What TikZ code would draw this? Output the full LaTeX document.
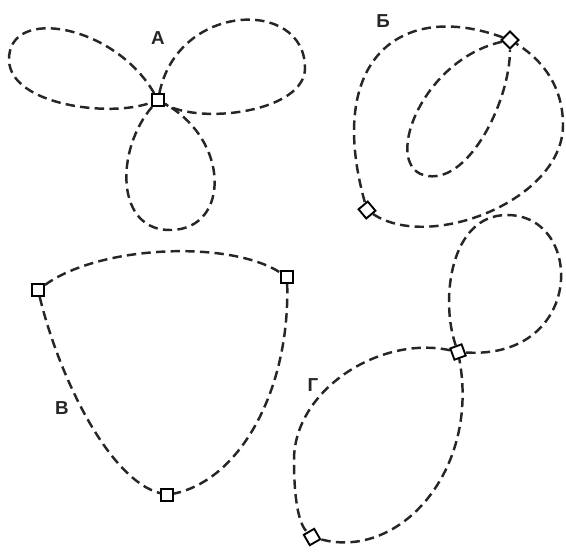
\documentclass[tikz,border=0pt]{standalone}
\usepackage{fontspec}
\newfontfamily\cyrfont{Liberation Sans}

\begin{document}
\begin{tikzpicture}[x=0.03cm, y=-0.03cm,
  vertex/.style={draw, fill=white, line width=1.6pt, minimum size=0.36cm, inner sep=0pt},
  loopline/.style={line width=2.1pt, dash pattern=on 8pt off 4.5pt, black!85},
  letter/.style={font=\cyrfont\bfseries\fontsize{16}{18}\selectfont, black!85}]
  \useasboundingbox (0,0) rectangle (566,553);

  % A
  \node[vertex] (a) at (158,100) {};
  \node[letter] (labA) at (158,38) {А};
  \draw[loopline] (a) .. controls (115,25) and (8,5) .. (9,60)
    .. controls (10,105) and (110,118) .. (a);
  \draw[loopline] (a) .. controls (178,2) and (305,-2) .. (305,68)
    .. controls (305,112) and (200,125) .. (a);
  \draw[loopline] (a) .. controls (115,150) and (115,232) .. (172,230)
    .. controls (230,228) and (230,140) .. (a);

  % Б
  \node[vertex, rotate=45] (bt) at (510,40) {};
  \node[vertex, rotate=40] (bl) at (367,210) {};
  \node[letter] (labB) at (383,21) {Б};
  \draw[loopline] (bt) .. controls (400,0) and (325,60) .. (bl);
  \draw[loopline] (bl) .. controls (430,252) and (563,200) .. (563,125)
    .. controls (563,80) and (535,55) .. (bt);
  \draw[loopline] (bt) .. controls (420,60) and (380,170) .. (428,176)
    .. controls (470,182) and (510,100) .. (bt);

  % В
  \node[vertex] (v1) at (38,290) {};
  \node[vertex] (v2) at (287,277) {};
  \node[vertex] (v3) at (167,495) {};
  \node[letter] (labV) at (62,408) {В};
  \draw[loopline] (v1) .. controls (100,245) and (230,240) .. (v2);
  \draw[loopline] (v1) .. controls (60,380) and (110,480) .. (v3);
  \draw[loopline] (v2) .. controls (290,390) and (240,480) .. (v3);

  % Г
  \node[vertex, rotate=20] (g) at (458,352) {};
  \node[vertex, rotate=30] (h) at (312,537) {};
  \node[letter] (labG) at (313,385) {Г};
  \draw[loopline] (g) .. controls (440,300) and (450,215) .. (507,215)
    .. controls (585,215) and (585,360) .. (g);
  \draw[loopline] (g) .. controls (380,335) and (294,390) .. (294,460)
    .. controls (294,505) and (300,525) .. (h);
  \draw[loopline] (h) .. controls (400,560) and (480,470) .. (g);
\end{tikzpicture}
\end{document}
